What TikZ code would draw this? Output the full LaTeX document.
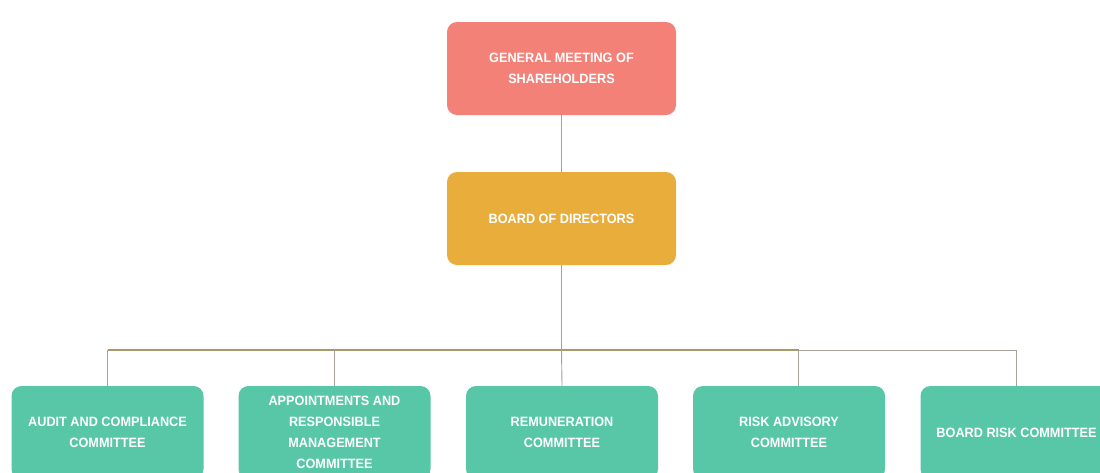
\documentclass[tikz,border=0pt]{standalone}
\usepackage{fontspec}
\newfontfamily\boxfont[FakeStretch=0.94]{Liberation Sans Bold}
\definecolor{salmon}{HTML}{F38178}
\definecolor{gold}{HTML}{E9AD3B}
\definecolor{teal}{HTML}{57C7A7}
\definecolor{olive}{HTML}{A8996C}
\definecolor{lgray}{HTML}{A6A29A}
\begin{document}
\begin{tikzpicture}[x=1pt,y=-1pt,
  box/.style={rounded corners=10pt, minimum width=229pt, minimum height=93pt, inner sep=0pt,
    text=white, align=center, font=\boxfont\fontsize{13.5}{21}\selectfont},
  cbox/.style={box, fill=teal, minimum width=192pt, minimum height=93pt},
  link/.style={draw=lgray, line width=0.9pt},
  bar/.style={draw=olive, line width=1.2pt}]
\useasboundingbox (0,0) rectangle (1100,472);
\fill[white] (0,0) rectangle (1100,472);
\begin{scope}
\clip (0,0) rectangle (1100,472);
\node[box, fill=salmon] (gm) at (561.5,68.5) {GENERAL MEETING OF\\SHAREHOLDERS};
\node[box, fill=gold] (bd) at (561.5,218.5) {BOARD OF DIRECTORS};
\node[cbox] (c1) at (107.5,432.5) {AUDIT AND COMPLIANCE\\COMMITTEE};
\node[cbox] (c2) at (334.5,432.5) {APPOINTMENTS AND\\RESPONSIBLE\\MANAGEMENT\\COMMITTEE};
\node[cbox] (c3) at (562,432.5) {REMUNERATION\\COMMITTEE};
\node[cbox] (c4) at (789,432.5) {RISK ADVISORY\\COMMITTEE};
\node[cbox] (c5) at (1016.5,432.5) {BOARD RISK COMMITTEE};
\coordinate (h) at (561.5,350);
\coordinate (hl) at (107.5,350);
\coordinate (hr) at (1016.5,350);
\coordinate (h4) at (798.5,350);
\draw[link] (gm.south) -- (bd.north);
\draw[link] (bd.south) -- (h);
\draw[bar] (hl) -- (h4);
\draw[link] (h4) -- (hr);
\draw[link] (hl) -- (c1.north);
\draw[link] (c2.north |- h) -- (c2.north);
\draw[link] (h) -- (c3.north);
\draw[link] (h4) -- (h4 |- c4.north);
\draw[link] (hr) -- (c5.north);
\end{scope}
\end{tikzpicture}
\end{document}
